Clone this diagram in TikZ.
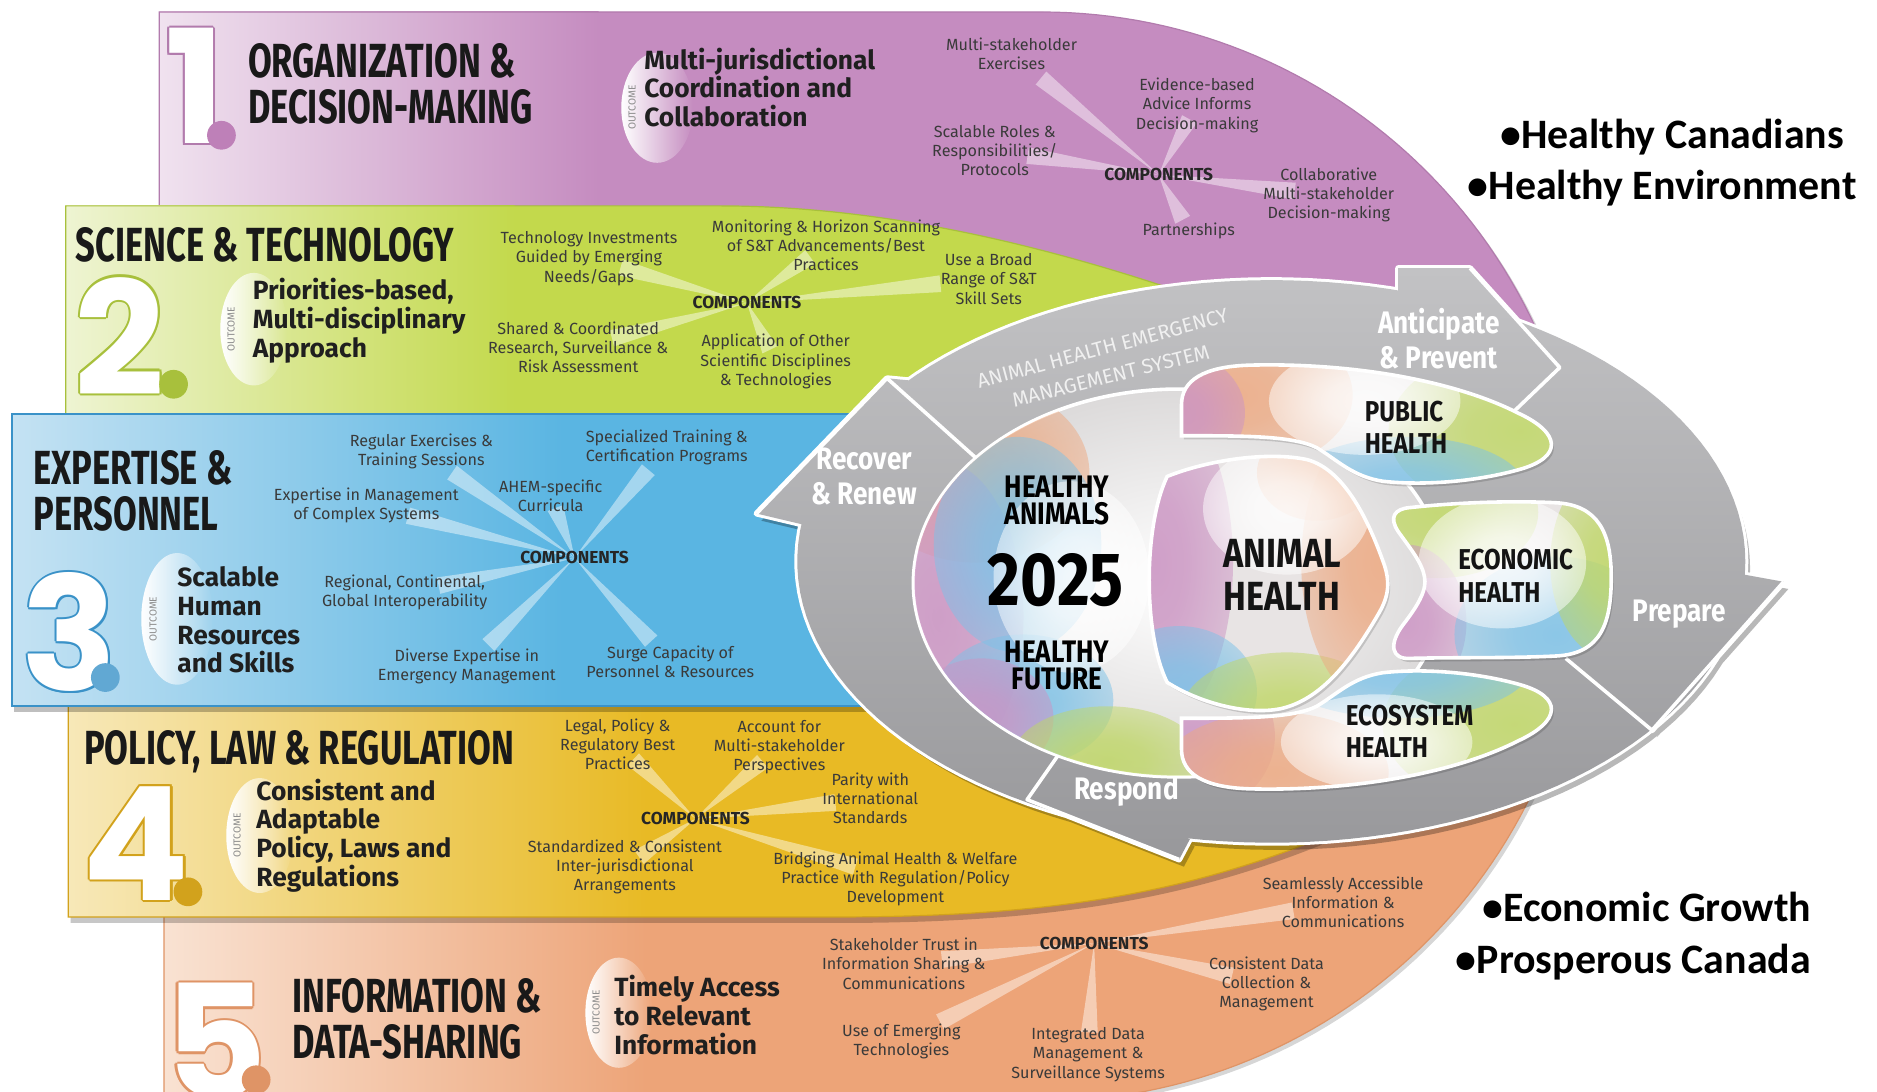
\documentclass[tikz,border=0pt]{standalone}
\usepackage{fontspec}
\setmainfont{Fira Sans}
\newfontfamily\ftitle[FakeStretch=0.72]{Fira Sans}
\newfontfamily\flabel[FakeStretch=0.84]{Fira Sans}
\newfontfamily\fcal{Carlito}
\newfontfamily\fnum{Poppins}
\usetikzlibrary{calc,fadings}
\definecolor{purR}{HTML}{C58CC0}
\definecolor{purL}{HTML}{F0E2EF}
\definecolor{purD}{HTML}{B27BAD}
\definecolor{purDot}{HTML}{BE80B8}
\definecolor{grnR}{HTML}{C3D94C}
\definecolor{grnL}{HTML}{EEF4D2}
\definecolor{grnD}{HTML}{A8C03C}
\definecolor{bluR}{HTML}{5AB5E2}
\definecolor{bluL}{HTML}{C4E2F3}
\definecolor{bluD}{HTML}{3A92C8}
\definecolor{yelR}{HTML}{E8BA25}
\definecolor{yelL}{HTML}{F7E8B8}
\definecolor{yelD}{HTML}{D2A21C}
\definecolor{orgR}{HTML}{EDA478}
\definecolor{orgL}{HTML}{F9E2D2}
\definecolor{orgD}{HTML}{DF9466}
\definecolor{ringL}{HTML}{C2C2C4}
\definecolor{ringD}{HTML}{98989B}
\definecolor{innerC}{HTML}{DCDADA}
\definecolor{hbase}{HTML}{E8E4E4}
\definecolor{comptext}{HTML}{3A3A3A}
\definecolor{pinkC}{HTML}{CC94C4}
\definecolor{peachC}{HTML}{EDA981}
\definecolor{skyC}{HTML}{7CC2E8}
\definecolor{limeC}{HTML}{BFD765}
\pgfdeclareradialshading{blobsh}{\pgfpoint{0bp}{0bp}}{color(0bp)=(white!85!black); color(10bp)=(white!78!black); color(30bp)=(white!40!black); color(50bp)=(black)}
\pgfdeclarefading{blobfade}{\pgfuseshading{blobsh}}
\tikzfading[name=crescfade, left color=transparent!0, right color=transparent!100]
\newcommand\mkray[2]{%
  \path (#1) -- (#2) coordinate[pos=0.8] (rayend);
  \fill[rayfill] (#1) -- ($(rayend)!7pt!90:(#1)$) -- ($(rayend)!7pt!-90:(#1)$) -- cycle;}
\newcommand\hblob[4]{\fill[#1, path fading=blobfade] (#2) ellipse (#3 and #4);}
\newcommand\bignum[5]{%
  \foreach \ddx/\ddy [count=\k] in {-1.8/0,1.8/0,0/-1.8,0/1.8,-1.3/-1.3,1.3/1.3,-1.3/1.3,1.3/-1.3}{
    \node[numst, text=#5] (#1o\k) at ({#2+\ddx},{#3+\ddy}) {#4};}
  \node[numst, text=white] (#1) at (#2,#3) {#4};}
\begin{document}
\begin{tikzpicture}[x=1pt,y=-1pt,
  comp/.style={font=\fontsize{13.5}{16}\selectfont, text=comptext, align=center, inner sep=0pt},
  compH/.style={font=\bfseries\fontsize{14.5}{16}\selectfont, text=black!85, inner sep=0pt},
  ttl/.style={font=\ftitle\bfseries\fontsize{40}{38}\selectfont, text=black!90, align=left, anchor=west, inner sep=0pt},
  outc/.style={font=\bfseries\fontsize{22}{24}\selectfont, text=black!88, align=left, anchor=west, inner sep=0pt},
  outw/.style={font=\fontsize{8.5}{9}\selectfont, text=black!45, rotate=90, inner sep=0pt},
  numst/.style={font=\fnum\bfseries\fontsize{132}{132}\selectfont, inner sep=0pt, anchor=base},
  ringlab/.style={font=\flabel\bfseries\fontsize{26}{29}\selectfont, text=white, align=center, inner sep=0pt},
  hlab/.style={font=\flabel\bfseries\fontsize{24}{27}\selectfont, text=black!92, align=left, anchor=west, inner sep=0pt},
  bul/.style={font=\fcal\bfseries\fontsize{35}{40}\selectfont, text=black, anchor=base west, inner sep=0pt},
  rayfill/.style={fill=white, opacity=0.45},
]
\useasboundingbox (0,0) rectangle (1568,912);
\clip (0,0) rectangle (1568,912);
\fill[white] (0,0) rectangle (1568,912);

\def\purpath{(133,10) -- (870,10) -- plot[domain=-90:10,samples=70] ({870+455*cos(\x)},{465+455*sin(\x)}) -- (133,545) -- cycle}
\def\orgpath{(137,650) -- (1286,650) -- plot[domain=24:95,samples=50] ({870+455*cos(\x)},{465+455*sin(\x)}) -- (137,930) -- cycle}
\def\yelpath{(57,584) -- (1150,584) -- (1150,680) .. controls (1020,740) and (900,766) .. (700,766) -- (57,766) -- cycle}
\def\grnpath{(55,172) -- (600,172) .. controls (750,172) and (900,210) .. (1060,270) -- (1060,352) -- (55,352) -- cycle}
\def\blupath{(10,346) -- (900,346) -- (900,590) -- (10,590) -- cycle}

% ---------- bands
\fill[black,opacity=.16,xshift=3pt,yshift=-3pt] \purpath;
\fill[purR] \purpath;
\shade[left color=purL,right color=purR] (133,10) rectangle (500,171);
\draw[purD,line width=1pt] \purpath;

\fill[black,opacity=.16,xshift=3pt,yshift=-3pt] \orgpath;
\fill[orgR] \orgpath;
\shade[left color=orgL,right color=orgR] (137,650) rectangle (540,912);
\draw[orgD,line width=1pt] \orgpath;

\fill[black,opacity=.22,xshift=2pt,yshift=-5pt] \yelpath;
\fill[yelR] \yelpath;
\shade[left color=yelL,right color=yelR] (57,584) rectangle (540,766);
\draw[yelD,line width=1pt] \yelpath;

\fill[grnR] \grnpath;
\shade[left color=grnL,right color=grnR] (55,172) rectangle (430,352);
\draw[grnD,line width=1pt] \grnpath;

\fill[black,opacity=.25,xshift=2pt,yshift=-5pt] \blupath;
\fill[bluR] \blupath;
\shade[left color=bluL,right color=bluR] (10,346) rectangle (470,590);
\draw[bluD,line width=1.6pt] \blupath;

% ---------- outcome crescents
\fill[white, path fading=crescfade] (549,90) ellipse (30 and 46);
\fill[white, path fading=crescfade] (212,275) ellipse (28 and 47);
\fill[white, path fading=crescfade] (148,517) ellipse (30 and 55);
\fill[white, path fading=crescfade] (217,698) ellipse (28 and 48);
\fill[white, path fading=crescfade] (517,846) ellipse (28 and 46);
\node[outw] (w1) at (528,90) {OUTCOME};
\node[outw] (w2) at (193,275) {OUTCOME};
\node[outw] (w3) at (128,517) {OUTCOME};
\node[outw] (w4) at (198,698) {OUTCOME};
\node[outw] (w5) at (498,846) {OUTCOME};

% ---------- numerals
\bignum{n1}{163}{120}{1}{purD}
\bignum{n2}{100}{330}{2}{grnD}
\bignum{n3}{58}{577}{3}{bluD}
\bignum{n4}{114}{752}{4}{yelD}
\bignum{n5}{180}{918}{5}{orgD}
\fill[purDot] (185,113) circle (12);
\fill[grnD] (145,321) circle (12);
\fill[bluD!80!white] (88,566) circle (12);
\fill[yelD] (157,745) circle (12);
\fill[orgD] (214,902) circle (12);

% ---------- titles
\node[ttl] (t1) at (207,70) {ORGANIZATION \&\\DECISION-MAKING};
\node[ttl] (t2) at (63,205) {SCIENCE \& TECHNOLOGY};
\node[ttl] (t3) at (28,410) {EXPERTISE \&\\PERSONNEL};
\node[ttl] (t4) at (70,628) {POLICY, LAW \& REGULATION};
\node[ttl] (t5) at (244,851) {INFORMATION \&\\DATA-SHARING};

\node[outc] (o1) at (538,73) {Multi-jurisdictional\\Coordination and\\Collaboration};
\node[outc] (o2) at (211,268) {Priorities-based,\\Multi-disciplinary\\Approach};
\node[outc] (o3) at (148,518) {Scalable\\Human\\Resources\\and Skills};
\node[outc] (o4) at (214,698) {Consistent and\\Adaptable\\Policy, Laws and\\Regulations};
\node[outc] (o5) at (513,848) {Timely Access\\to Relevant\\Information};

% ---------- components
\coordinate (k1) at (968,146);
\coordinate (k1a) at (845,45);
\coordinate (k1b) at (1000,88);
\coordinate (k1c) at (831,126);
\coordinate (k1d) at (1110,163);
\coordinate (k1e) at (993,193);
\coordinate (k2) at (624,253);
\coordinate (k2a) at (492,216);
\coordinate (k2b) at (690,205);
\coordinate (k2c) at (826,233);
\coordinate (k2d) at (483,290);
\coordinate (k2e) at (648,302);
\coordinate (k3) at (480,466);
\coordinate (k3a) at (352,377);
\coordinate (k3b) at (557,374);
\coordinate (k3c) at (306,422);
\coordinate (k3d) at (460,414);
\coordinate (k3e) at (338,495);
\coordinate (k3f) at (390,557);
\coordinate (k3g) at (560,553);
\coordinate (k4) at (581,684);
\coordinate (k4a) at (516,622);
\coordinate (k4b) at (651,624);
\coordinate (k4c) at (727,667);
\coordinate (k4d) at (522,724);
\coordinate (k4e) at (748,734);
\coordinate (k5) at (914,788);
\coordinate (k5a) at (755,805);
\coordinate (k5b) at (1122,754);
\coordinate (k5c) at (1058,822);
\coordinate (k5d) at (753,870);
\coordinate (k5e) at (909,881);

\foreach \b/\items in {1/{a,b,c,d,e},2/{a,b,c,d,e},3/{a,b,c,d,e,f,g},4/{a,b,c,d,e},5/{a,b,c,d,e}}{
  \foreach \i in \items {\mkray{k\b}{k\b\i}}}

\node[compH] (K1) at (k1) {COMPONENTS};
\node[comp] (K1a) at (k1a) {Multi-stakeholder\\Exercises};
\node[comp] (K1b) at (k1b) {Evidence-based\\Advice Informs\\Decision-making};
\node[comp] (K1c) at (k1c) {Scalable Roles \&\\Responsibilities/\\Protocols};
\node[comp] (K1d) at (k1d) {Collaborative\\Multi-stakeholder\\Decision-making};
\node[comp] (K1e) at (k1e) {Partnerships};

\node[compH] (K2) at (k2) {COMPONENTS};
\node[comp] (K2a) at (k2a) {Technology Investments\\Guided by Emerging\\Needs/Gaps};
\node[comp] (K2b) at (k2b) {Monitoring \& Horizon Scanning\\of S\&T Advancements/Best\\Practices};
\node[comp] (K2c) at (k2c) {Use a Broad\\Range of S\&T\\Skill Sets};
\node[comp] (K2d) at (k2d) {Shared \& Coordinated\\Research, Surveillance \&\\Risk Assessment};
\node[comp] (K2e) at (k2e) {Application of Other\\Scientific Disciplines\\\& Technologies};

\node[compH] (K3) at (k3) {COMPONENTS};
\node[comp] (K3a) at (k3a) {Regular Exercises \&\\Training Sessions};
\node[comp] (K3b) at (k3b) {Specialized Training \&\\Certification Programs};
\node[comp] (K3c) at (k3c) {Expertise in Management\\of Complex Systems};
\node[comp] (K3d) at (k3d) {AHEM-specific\\Curricula};
\node[comp] (K3e) at (k3e) {Regional, Continental,\\Global Interoperability};
\node[comp] (K3f) at (k3f) {Diverse Expertise in\\Emergency Management};
\node[comp] (K3g) at (k3g) {Surge Capacity of\\Personnel \& Resources};

\node[compH] (K4) at (k4) {COMPONENTS};
\node[comp] (K4a) at (k4a) {Legal, Policy \&\\Regulatory Best\\Practices};
\node[comp] (K4b) at (k4b) {Account for\\Multi-stakeholder\\Perspectives};
\node[comp] (K4c) at (k4c) {Parity with\\International\\Standards};
\node[comp] (K4d) at (k4d) {Standardized \& Consistent\\Inter-jurisdictional\\Arrangements};
\node[comp] (K4e) at (k4e) {Bridging Animal Health \& Welfare\\Practice with Regulation/Policy\\Development};

\node[compH] (K5) at (k5) {COMPONENTS};
\node[comp] (K5a) at (k5a) {Stakeholder Trust in\\Information Sharing \&\\Communications};
\node[comp] (K5b) at (k5b) {Seamlessly Accessible\\Information \&\\Communications};
\node[comp] (K5c) at (k5c) {Consistent Data\\Collection \&\\Management};
\node[comp] (K5d) at (k5d) {Use of Emerging\\Technologies};
\node[comp] (K5e) at (k5e) {Integrated Data\\Management \&\\Surveillance Systems};

% ---------- right bullets
\node[bul] (hc) at (1253,124) {•Healthy Canadians};
\node[bul] (he) at (1226,167) {•Healthy Environment};
\node[bul] (eg) at (1238,770) {•Economic Growth};
\node[bul] (pc) at (1216,813) {•Prosperous Canada};

% ---------- grey ring
\def\ringpath{plot[domain=0:360,samples=144] ({1062+396*cos(\x)},{469+235*sin(\x)}) -- cycle
 (670,438) -- (632,429) -- (741,316) -- (762,318) -- cycle
 (1168,243) -- (1168,224) -- (1228,224) -- (1303,307) -- cycle
 (1457,480) -- (1490,486) -- (1380,610) -- cycle
 (994,701) -- (985,718) -- (858,668) -- cycle}
\fill[black,opacity=.28,xshift=4pt,yshift=-6pt] \ringpath;
\draw[white,line width=5pt,line join=round] \ringpath;
\shade[top color=ringL,bottom color=ringD] \ringpath;
\draw[white,line width=3pt,line join=round] (632,429) -- (741,316) -- (818,385);
\draw[white,line width=3pt,line join=round] (1228,224) -- (1303,307) -- (1256,352);
\draw[white,line width=3pt,line join=round] (1490,486) -- (1380,610) -- (1308,550);
\draw[white,line width=3pt,line join=round] (985,718) -- (858,668) -- (893,618);

\node[font=\fontsize{17}{18}\selectfont, text=white!88!gray, rotate=15, inner sep=0pt] (ah1) at (921,291) {ANIMAL HEALTH EMERGENCY};
\node[font=\fontsize{17}{18}\selectfont, text=white!88!gray, rotate=14, inner sep=0pt] (ah2) at (928,314) {MANAGEMENT SYSTEM};
\node[ringlab] (rAP) at (1202,283) {Anticipate\\\& Prevent};
\node[ringlab] (rRR) at (722,398) {Recover\\\& Renew};
\node[ringlab] (rPr) at (1403,513) {Prepare};
\node[ringlab] (rRe) at (941,661) {Respond};

% ---------- inner light region with 2025 oval
\shadedraw[inner color=white, outer color=innerC, draw=white, line width=3pt] (985,487) ellipse (222 and 162);
\begin{scope}
\clip (985,487) ellipse (221 and 161);
\hblob{peachC}{815,395}{95}{75}
\hblob{pinkC}{785,515}{70}{130}
\hblob{skyC}{850,455}{70}{90}
\hblob{skyC}{855,585}{75}{55}
\hblob{pinkC}{820,600}{60}{50}
\hblob{limeC}{925,635}{80}{45}
\hblob{white}{895,482}{65}{80}
\end{scope}

% ---------- health shapes
\def\anipath{(975,398) .. controls (1010,384) and (1060,377) .. (1092,384) .. controls (1122,392) and (1142,432) .. (1155,468) .. controls (1162,486) and (1160,498) .. (1152,512) .. controls (1130,550) and (1105,584) .. (1070,592) .. controls (1040,598) and (1000,586) .. (975,570) .. controls (955,530) and (955,440) .. (975,398) -- cycle}
\def\pubpath{(987,364) -- (987,338) .. controls (987,318) and (1005,306) .. (1045,305) .. controls (1130,303) and (1215,318) .. (1268,345) .. controls (1305,362) and (1305,382) .. (1270,392) .. controls (1235,402) and (1190,406) .. (1155,402) .. controls (1130,398) and (1118,385) .. (1100,374) .. controls (1080,364) and (1040,364) .. (987,364) -- cycle}
\def\ecopath{(987,600) -- (987,626) .. controls (987,646) and (1005,658) .. (1045,659) .. controls (1130,661) and (1215,646) .. (1268,619) .. controls (1305,602) and (1305,582) .. (1270,572) .. controls (1235,562) and (1190,558) .. (1155,562) .. controls (1130,566) and (1118,579) .. (1100,590) .. controls (1080,600) and (1040,600) .. (987,600) -- cycle}
\def\econpath{(1178,424) .. controls (1215,420) and (1260,418) .. (1300,420) .. controls (1335,422) and (1346,445) .. (1346,482) .. controls (1346,520) and (1338,546) .. (1300,548) .. controls (1260,550) and (1215,549) .. (1178,550) .. controls (1162,551) and (1160,538) .. (1172,522) .. controls (1186,504) and (1192,492) .. (1190,482) .. controls (1188,470) and (1178,458) .. (1168,444) .. controls (1160,432) and (1165,425) .. (1178,424) -- cycle}

\fill[black,opacity=.15,xshift=2pt,yshift=-3pt] \anipath;
\fill[hbase] \anipath;
\begin{scope}\clip \anipath;
\hblob{pinkC}{965,470}{65}{140}
\hblob{skyC}{985,578}{65}{55}
\hblob{limeC}{1075,600}{90}{55}
\hblob{peachC}{1152,470}{65}{120}
\hblob{peachC}{1100,395}{50}{40}
\hblob{white}{1075,425}{70}{55}
\end{scope}
\draw[white,line width=3pt] \anipath;

\fill[black,opacity=.15,xshift=2pt,yshift=-3pt] \pubpath;
\fill[hbase] \pubpath;
\begin{scope}\clip \pubpath;
\hblob{peachC}{1030,330}{100}{65}
\hblob{pinkC}{985,345}{55}{50}
\hblob{limeC}{1270,360}{110}{70}
\hblob{skyC}{1175,410}{100}{45}
\hblob{white}{1140,335}{80}{45}
\end{scope}
\draw[white,line width=3pt] \pubpath;

\fill[black,opacity=.15,xshift=2pt,yshift=-3pt] \ecopath;
\fill[hbase] \ecopath;
\begin{scope}\clip \ecopath;
\hblob{pinkC}{995,615}{70}{65}
\hblob{peachC}{1065,645}{95}{50}
\hblob{limeC}{1265,605}{110}{70}
\hblob{skyC}{1170,555}{110}{45}
\hblob{white}{1150,620}{80}{40}
\end{scope}
\draw[white,line width=3pt] \ecopath;

\fill[black,opacity=.15,xshift=2pt,yshift=-3pt] \econpath;
\fill[hbase] \econpath;
\begin{scope}\clip \econpath;
\hblob{limeC}{1200,428}{85}{55}
\hblob{pinkC}{1175,520}{50}{65}
\hblob{skyC}{1300,530}{85}{65}
\hblob{limeC}{1345,470}{50}{80}
\hblob{white}{1255,470}{70}{55}
\end{scope}
\draw[white,line width=3pt] \econpath;

% ---------- health labels
\node[font=\flabel\bfseries\fontsize{26}{23}\selectfont, align=center, inner sep=0pt] (ha) at (883,418) {HEALTHY\\ANIMALS};
\node[font=\flabel\bfseries\fontsize{63}{63}\selectfont, inner sep=0pt] (yr) at (882,485) {2025};
\node[font=\flabel\bfseries\fontsize{26}{23}\selectfont, align=center, inner sep=0pt] (hf) at (883,556) {HEALTHY\\FUTURE};
\node[hlab, font=\flabel\bfseries\fontsize{34}{36}\selectfont] (ANI) at (1022,480) {ANIMAL\\HEALTH};
\node[hlab] (PUB) at (1140,357) {PUBLIC\\HEALTH};
\node[hlab] (ECN) at (1218,481) {ECONOMIC\\HEALTH};
\node[hlab] (ECS) at (1124,611) {ECOSYSTEM\\HEALTH};
\end{tikzpicture}
\end{document}
